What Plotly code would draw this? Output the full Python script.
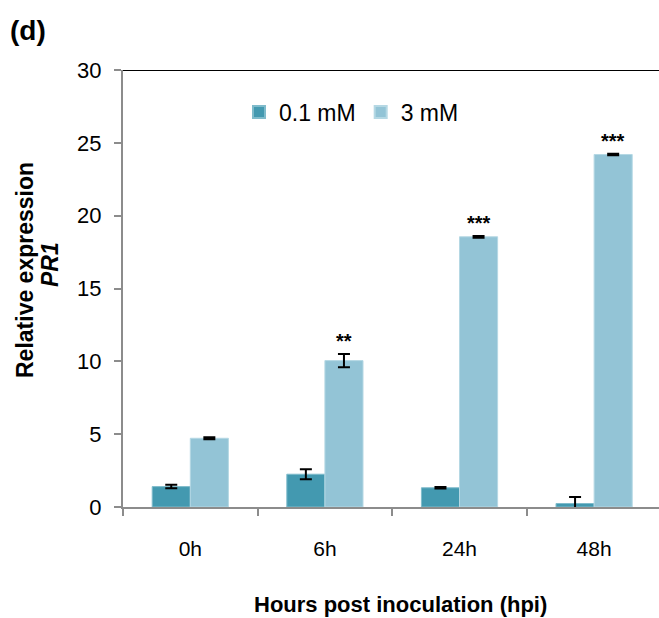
import plotly.graph_objects as go

categories = ["0h", "6h", "24h", "48h"]
low_vals = [1.40, 2.25, 1.32, 0.24]
low_err = [0.12, 0.35, 0.05, 0.45]
high_vals = [4.72, 10.05, 18.55, 24.2]
high_err = [0.07, 0.45, 0.06, 0.05]
signif = ["", "**", "***", "***"]
series_names = ["0.1 mM", "3 mM"]

dark = "#4399B0"
light = "#93C4D6"
font = "Liberation Sans, Arial, sans-serif"

# plot-area geometry in pixels (used to place paper-referenced text)
L, R, T, B = 123, 659, 70, 507
def px(x):
    return (x - L) / (R - L)
def py(y):
    return (B - y) / (B - T)

fig = go.Figure()
fig.add_trace(go.Bar(
    x=categories, y=low_vals, name=series_names[0],
    marker=dict(color=dark, line=dict(color="#7FBBCB", width=1)),
    error_y=dict(type="data", array=low_err, color="black", thickness=2, width=6),
))
fig.add_trace(go.Bar(
    x=categories, y=high_vals, name=series_names[1],
    marker=dict(color=light, line=dict(color="#B5D8E4", width=1)),
    error_y=dict(type="data", array=high_err, color="black", thickness=2, width=6),
))

for i, s in enumerate(signif):
    if s:
        fig.add_annotation(
            x=i + 0.142, y=high_vals[i] + high_err[i], xref="x", yref="y",
            text="<b>" + s + "</b>", showarrow=False, yanchor="bottom", yshift=0,
            font=dict(family=font, size=20, color="black"),
        )

fig.add_shape(type="line", xref="paper", yref="y", x0=0, x1=1, y0=30, y1=30,
              line=dict(color="black", width=2))

fig.add_annotation(x=px(8), y=py(30), xref="paper", yref="paper",
                   xanchor="left", yanchor="middle", text="<b>(d)</b>",
                   showarrow=False, font=dict(family=font, size=28, color="black"))

# y-axis title, two lines
fig.add_annotation(x=px(25), y=py(270), xref="paper", yref="paper",
                   xanchor="center", yanchor="middle", textangle=-90,
                   text="<b>Relative expression</b>", showarrow=False,
                   font=dict(family=font, size=23, color="black"))
fig.add_annotation(x=px(50), y=py(265), xref="paper", yref="paper",
                   xanchor="center", yanchor="middle", textangle=-90,
                   text="<b><i>PR1</i></b>", showarrow=False,
                   font=dict(family=font, size=23, color="black"))

fig.add_annotation(x=px(400), y=py(604), xref="paper", yref="paper",
                   text="<b>Hours post inoculation (hpi)</b>", showarrow=False,
                   xanchor="center", yanchor="middle",
                   font=dict(family=font, size=22, color="black"))

fig.update_layout(
    width=659, height=618,
    margin=dict(l=L, r=0, t=T, b=618 - B),
    paper_bgcolor="white", plot_bgcolor="white",
    barmode="group", bargap=0.434, bargroupgap=0,
    font=dict(family=font, size=22, color="black"),
    showlegend=True,
    legend=dict(orientation="h", x=px(239), y=py(112), xanchor="left", yanchor="middle",
                font=dict(size=23), itemwidth=30, bgcolor="rgba(0,0,0,0)",
                tracegroupgap=0, itemsizing="constant"),
    xaxis=dict(
        type="category", range=[-0.5, 3.482], tickson="boundaries",
        showline=True, linecolor="#8C8C8C", linewidth=2,
        ticks="outside", ticklen=7, tickwidth=1.5, tickcolor="#8C8C8C",
        ticklabelstandoff=22, tickfont=dict(size=21),
        showgrid=False, zeroline=False,
    ),
    yaxis=dict(
        range=[0, 30], tickvals=[0, 5, 10, 15, 20, 25, 30],
        showline=True, linecolor="#8C8C8C", linewidth=2,
        ticks="outside", ticklen=7, tickwidth=1.5, tickcolor="#8C8C8C",
        ticklabelstandoff=8, tickfont=dict(size=22),
        showgrid=False, zeroline=False,
    ),
)

fig.write_html("out.html")
